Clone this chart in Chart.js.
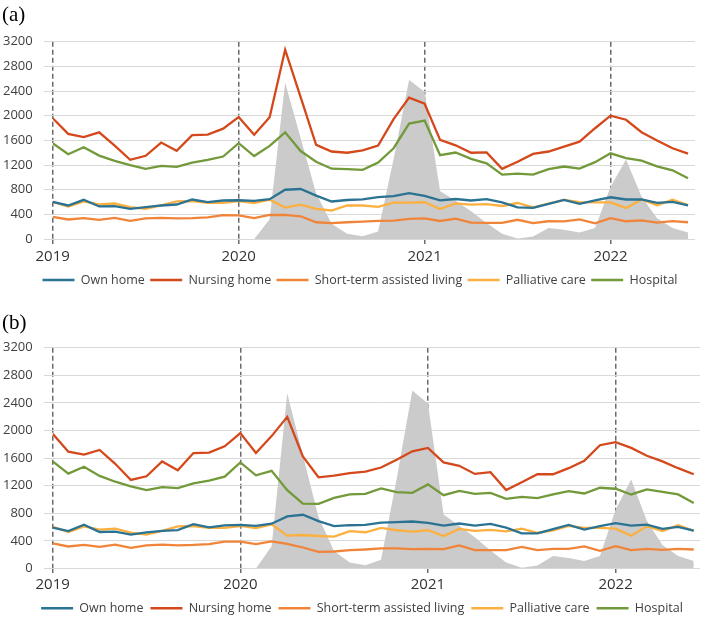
<!DOCTYPE html>
<html>
<head>
<meta charset="utf-8">
<script src="https://cdn.jsdelivr.net/npm/chart.js@4.4.1/dist/chart.umd.min.js"></script>
<style>
  html, body { margin: 0; padding: 0; background: #ffffff; }
  #wrap { position: relative; width: 704px; height: 620px; overflow: hidden; }
  .panel { position: absolute; left: 0; width: 704px; }
  .tag { position: absolute; left: 2px; font-family: "Liberation Serif", "Times New Roman", serif; font-size: 21px; line-height: 1; color: #000; z-index: 2; }
</style>
</head>
<body>
<div id="wrap">
  <div class="tag" style="top:4px">(a)</div>
  <div class="panel" style="top:0px;height:296px"><canvas id="chartA" width="704" height="296"></canvas></div>
  <div class="tag" style="top:312px">(b)</div>
  <div class="panel" style="top:296px;height:324px"><canvas id="chartB" width="704" height="324"></canvas></div>
</div>
<script>
// ---- Data (monthly, Jan 2019 – Jun 2022) ----
const months = [
  "2019-01","2019-02","2019-03","2019-04","2019-05","2019-06","2019-07","2019-08","2019-09","2019-10","2019-11","2019-12",
  "2020-01","2020-02","2020-03","2020-04","2020-05","2020-06","2020-07","2020-08","2020-09","2020-10","2020-11","2020-12",
  "2021-01","2021-02","2021-03","2021-04","2021-05","2021-06","2021-07","2021-08","2021-09","2021-10","2021-11","2021-12",
  "2022-01","2022-02","2022-03","2022-04","2022-05","2022-06"
];
const yearTickIndex = [0, 12, 24, 36];
const yearLabels = ["2019", "2020", "2021", "2022"];
const yTicks = [0, 400, 800, 1200, 1600, 2000, 2400, 2800, 3200];
const seriesNames = ["Own home", "Nursing home", "Short-term assisted living", "Palliative care", "Hospital"];

// grey background area (COVID-19 deaths)
const covidDeaths = [null,null,null,null,null,null,null,null,null,null,null,null,null,
  0,320,2540,1640,745,250,85,45,125,1300,2580,2390,780,620,450,260,86,10,43,178,150,108,178,850,1290,690,340,178,108];

// Panel (a)
const ownHomeA   = [604,545,637,529,534,490,518,545,561,642,599,626,630,620,648,800,812,705,610,634,645,680,695,745,701,628,650,626,648,594,515,505,572,634,570,629,678,642,645,586,604,548];
const nursingA   = [1960,1705,1655,1730,1515,1285,1350,1565,1430,1685,1695,1790,1980,1690,1975,3070,2300,1527,1420,1400,1440,1515,1945,2293,2195,1608,1520,1400,1405,1140,1255,1380,1420,1498,1580,1797,2000,1935,1732,1600,1473,1387];
const shortTermA = [362,318,340,313,345,297,335,345,335,340,351,389,386,340,391,394,370,273,259,273,284,294,300,329,335,294,332,267,262,262,313,259,289,286,321,257,340,289,305,267,292,273];
const palliativeA= [604,529,610,561,577,518,491,545,610,615,588,588,615,583,640,510,558,491,464,545,545,523,591,590,597,486,578,558,566,537,585,516,575,637,599,594,594,505,643,548,637,550];
const hospitalA  = [1554,1376,1489,1354,1268,1198,1139,1187,1171,1241,1284,1338,1554,1346,1511,1730,1427,1255,1141,1133,1122,1241,1473,1872,1921,1360,1403,1300,1228,1045,1060,1045,1133,1177,1144,1247,1390,1314,1271,1180,1115,988];

// Panel (b)
const ownHomeB   = [590,540,634,528,533,490,522,544,556,641,595,624,631,618,648,753,778,685,612,626,631,665,670,680,661,621,651,621,646,592,509,509,568,631,563,612,656,621,636,572,602,548];
const nursingB   = [1952,1693,1649,1717,1517,1282,1336,1551,1424,1673,1678,1771,1962,1673,1918,2197,1624,1321,1346,1380,1404,1463,1576,1698,1747,1536,1487,1370,1395,1135,1248,1365,1365,1453,1561,1786,1830,1747,1634,1551,1453,1365];
const shortTermB = [362,318,340,313,345,297,335,345,335,340,351,389,387,352,391,357,303,240,245,264,274,289,289,279,284,279,333,264,264,264,313,264,284,284,318,254,323,264,284,269,284,274];
const palliativeB= [604,529,610,561,577,518,491,545,610,615,588,588,615,583,640,475,484,470,460,540,524,587,553,533,553,470,572,543,558,538,577,514,553,617,587,587,577,475,612,543,626,543];
const hospitalB  = [1551,1375,1473,1341,1257,1189,1135,1179,1165,1233,1272,1331,1536,1350,1414,1135,939,935,1023,1072,1081,1160,1106,1096,1218,1062,1125,1081,1096,1008,1037,1018,1072,1120,1086,1169,1155,1072,1145,1111,1072,949];

const seriesColors = ["#2b7393", "#d4481c", "#f0853a", "#fbb040", "#72993a"];
const FONT = "'Open Sans', 'Noto Sans', sans-serif";

function toXY(arr) { return arr.map((v, i) => ({ x: i, y: v })); }

// shifts the (centred) legend horizontally, as in the reference
const legendShift = {
  id: "legendShift",
  afterLayout(chart, args, o) {
    const lg = chart.legend;
    if (lg && o && o.dx) { lg.left += o.dx; lg.right += o.dx; }
  }
};

function makeChart(id, series, opt) {
  const datasets = series.map((arr, k) => ({
    label: seriesNames[k],
    data: toXY(arr),
    borderColor: seriesColors[k],
    backgroundColor: seriesColors[k],
    borderWidth: 2.3,
    pointRadius: 0,
    tension: 0,
    fill: false,
    order: 0
  }));
  datasets.push({
    label: "COVID-19",
    data: toXY(covidDeaths),
    borderWidth: 0,
    borderColor: "rgba(0,0,0,0)",
    backgroundColor: "#cbcbcb",
    pointRadius: 0,
    tension: 0,
    fill: "origin",
    spanGaps: false,
    order: 5
  });
  return new Chart(document.getElementById(id), {
    type: "line",
    data: { datasets },
    plugins: [legendShift],
    options: {
      responsive: false,
      animation: false,
      devicePixelRatio: 1,
      layout: { padding: opt.padding },
      plugins: {
        tooltip: { enabled: false },
        title: { display: false },
        legendShift: { dx: opt.legendDx },
        legend: {
          position: "bottom",
          align: "center",
          labels: {
            font: { family: FONT, size: 12.5 },
            color: "#404040",
            boxWidth: 32,
            boxHeight: 2.5,
            padding: opt.legendPad,
            filter: (item) => item.datasetIndex < seriesNames.length,
            generateLabels: (chart) => Chart.defaults.plugins.legend.labels.generateLabels(chart).map(it => {
              it.lineWidth = 0;
              it.fillStyle = it.strokeStyle;
              return it;
            })
          }
        }
      },
      scales: {
        x: {
          type: "linear",
          min: 0,
          max: opt.xMax,
          z: 1,
          afterBuildTicks: (scale) => { scale.ticks = yearTickIndex.map(v => ({ value: v })); },
          ticks: {
            autoSkip: false,
            maxRotation: 0,
            padding: opt.xTickPad,
            color: "#333333",
            font: { family: FONT, size: 15 },
            callback: (v) => { const k = yearTickIndex.indexOf(v); return k >= 0 ? yearLabels[k] : ""; }
          },
          grid: {
            color: "#6b6b6b",
            lineWidth: 1.5,
            tickLength: 6,
            tickColor: "#6b6b6b",
            tickWidth: 1.5,
            tickBorderDash: [5, 3]
          },
          border: { display: false, dash: [5, 3] }
        },
        y: {
          min: 0,
          max: 3200,
          afterBuildTicks: (scale) => { scale.ticks = yTicks.map(v => ({ value: v })); },
          afterFit: (scale) => { scale.width = opt.yWidth; },
          ticks: {
            padding: 11,
            color: "#404040",
            font: { family: FONT, size: 13 },
            callback: (v) => String(v)
          },
          grid: {
            color: "#d9d9d9",
            lineWidth: 1,
            tickLength: 9,
            tickColor: "#d9d9d9"
          },
          border: { display: false }
        }
      }
    }
  });
}

makeChart("chartA", [ownHomeA, nursingA, shortTermA, palliativeA, hospitalA],
  { padding: { top: 41.7, left: 0, right: 9, bottom: -0.3 }, legendPad: 5.3, xTickPad: 2.7, legendDx: 12.5, xMax: 41.45, yWidth: 52.7 });
makeChart("chartB", [ownHomeB, nursingB, shortTermB, palliativeB, hospitalB],
  { padding: { top: 51.7, left: 0, right: 4, bottom: -4.5 }, legendPad: 7, xTickPad: 1.3, legendDx: 12, xMax: 41.4, yWidth: 52.7 });
</script>
</body>
</html>
